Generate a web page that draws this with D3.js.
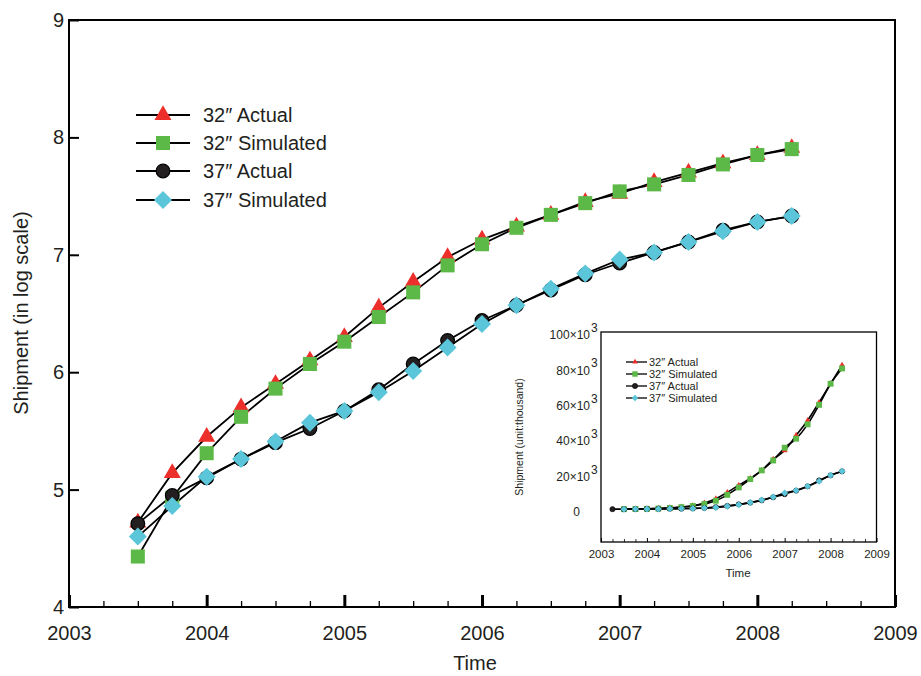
<!DOCTYPE html>
<html><head><meta charset="utf-8">
<script src="https://cdn.jsdelivr.net/npm/d3@7"></script>
<style>body{margin:0;background:#fff}svg{display:block;font-family:"Liberation Sans",Arial,Helvetica,sans-serif}</style>
</head><body><svg id="c" width="921" height="676"></svg>
<script>
// ---------- data ----------
const quarters = [2003.5,2003.75,2004,2004.25,2004.5,2004.75,2005,2005.25,2005.5,2005.75,2006,2006.25,2006.5,2006.75,2007,2007.25,2007.5,2007.75,2008,2008.25];
const act32 = [4.72,5.14,5.45,5.70,5.90,6.10,6.30,6.55,6.77,6.98,7.13,7.24,7.34,7.45,7.52,7.62,7.70,7.78,7.85,7.91];
const sim32 = [4.43,4.93,5.31,5.62,5.86,6.07,6.26,6.47,6.68,6.91,7.09,7.23,7.34,7.44,7.54,7.60,7.68,7.77,7.85,7.90];
const act37 = [4.71,4.95,5.10,5.26,5.40,5.52,5.67,5.85,6.07,6.27,6.44,6.57,6.70,6.83,6.93,7.02,7.11,7.21,7.28,7.33];
const sim37 = [4.60,4.86,5.11,5.26,5.41,5.57,5.67,5.83,6.01,6.21,6.41,6.57,6.71,6.84,6.96,7.02,7.11,7.20,7.28,7.33];
const yearTicks = [2003,2004,2005,2006,2007,2008,2009];
const logTicks = [4,5,6,7,8,9];
// inset (shipment, unit: thousand, in x10^3)
const insetQuartersA37 = [2003.25,2003.5,2003.75,2004,2004.25,2004.5,2004.75,2005,2005.25,2005.5,2005.75,2006,2006.25,2006.5,2006.75,2007,2007.25,2007.5,2007.75,2008,2008.25];
const inAct32 = [0.05,0.14,0.28,0.50,0.79,1.26,2.0,3.5,5.9,9.5,13.5,17.4,21.9,28.2,33.1,41.7,50.1,60.3,70.8,81.3];
const inSim32 = [0.03,0.09,0.20,0.42,0.72,1.17,1.82,2.95,4.8,8.1,12.3,17.0,21.9,27.5,34.7,39.8,47.9,58.9,70.8,79.4];
const inAct37 = [0.03,0.05,0.09,0.13,0.18,0.25,0.33,0.47,0.71,1.17,1.86,2.75,3.72,5.01,6.76,8.51,10.5,12.9,16.2,19.1,21.4];
const inSim37 = [0.04,0.07,0.13,0.18,0.26,0.37,0.47,0.68,1.02,1.62,2.57,3.72,5.13,6.92,9.12,10.5,12.9,15.8,19.1,21.4];
const insetYTicks = [0,20,40,60,80,100];
const labels = ["32\u2033 Actual","32\u2033 Simulated","37\u2033 Actual","37\u2033 Simulated"];
const colors = ["#ec2f2a","#5cb947","#231f20","#5bc6d9"];
const shapes = ["triangle","square","circle","diamond"];

const TXT = "#231f20";
const svg = d3.select("#c");
svg.append("rect").attr("width",921).attr("height",676).attr("fill","#fff");

function drawMarker(g, shape, color, s) {
  let p;
  if (shape === "triangle") {
    p = g.append("path").attr("d", d3.symbol(d3.symbolTriangle, 0.433*s*s*1.0)());
  } else if (shape === "square") {
    p = g.append("path").attr("d", d3.symbol(d3.symbolSquare, s*s*0.82)());
  } else if (shape === "circle") {
    p = g.append("circle").attr("r", s*0.44).attr("stroke","#000").attr("stroke-width", s*0.08);
  } else {
    p = g.append("path").attr("d", d3.symbol(d3.symbolSquare, s*s*0.5)()).attr("transform","rotate(45)");
  }
  p.attr("fill", color);
}

// ---------- main chart ----------
const x = d3.scaleLinear().domain([2003,2009]).range([69,895]);
const y = d3.scaleLinear().domain([4,9]).range([607,20]);

const mainSeries = [
  {xs: quarters, ys: act32},
  {xs: quarters, ys: sim32},
  {xs: quarters, ys: act37},
  {xs: quarters, ys: sim37}
];

// axes
const minorTicks = [];
for (let yr = 2003; yr < 2009; yr++) for (let q = 1; q < 4; q++) minorTicks.push(yr + q/4);
svg.append("g").attr("transform","translate(0,607)")
  .call(d3.axisBottom(x).tickValues(minorTicks).tickSize(-6).tickFormat(""))
  .call(g => { g.select(".domain").remove(); g.selectAll("line").attr("stroke","#000").attr("stroke-width",1.3); });
svg.append("g").attr("transform","translate(0,607)")
  .call(d3.axisBottom(x).tickValues(yearTicks).tickSize(-12).tickPadding(22).tickFormat(d3.format("d")))
  .call(g => { g.select(".domain").remove();
    g.selectAll("line").attr("stroke","#000").attr("stroke-width",3);
    g.selectAll("text").attr("font-size",20).attr("fill",TXT).attr("dy","0.35em").attr("y",26); });
svg.append("g").attr("transform","translate(69,0)")
  .call(d3.axisLeft(y).tickValues(logTicks).tickSize(-10).tickPadding(6).tickFormat(d3.format("d")))
  .call(g => { g.select(".domain").remove();
    g.selectAll("line").attr("stroke","#000").attr("stroke-width",2);
    g.selectAll("text").attr("font-size",20).attr("fill",TXT).attr("x",-5); });
svg.append("rect").attr("x",69).attr("y",20).attr("width",826).attr("height",587)
  .attr("fill","none").attr("stroke","#000").attr("stroke-width",2);

svg.append("text").attr("transform","translate(28,313) rotate(-90)").attr("text-anchor","middle")
  .attr("font-size",20).attr("fill",TXT).text("Shipment (in log scale)");
svg.append("text").attr("x",475).attr("y",670).attr("text-anchor","middle")
  .attr("font-size",20).attr("fill",TXT).text("Time");

const line = d3.line();
const mainSizes = [17,15.5,15.5,18];
mainSeries.forEach((s,i) => {
  svg.append("path").attr("d", line(s.xs.map((t,k) => [x(t), y(s.ys[k])])))
    .attr("fill","none").attr("stroke","#000").attr("stroke-width",1.8);
});
mainSeries.forEach((s,i) => {
  s.xs.forEach((t,k) => {
    const g = svg.append("g").attr("transform",`translate(${x(t)},${y(s.ys[k])})`);
    drawMarker(g, shapes[i], colors[i], mainSizes[i]);
  });
});

// main legend
const legY = [115,143,171,200];
labels.forEach((lab,i) => {
  svg.append("line").attr("x1",136).attr("x2",190).attr("y1",legY[i]).attr("y2",legY[i])
    .attr("stroke","#000").attr("stroke-width",1.8);
  const g = svg.append("g").attr("transform",`translate(163,${legY[i]})`);
  drawMarker(g, shapes[i], colors[i], mainSizes[i]);
  svg.append("text").attr("x",203).attr("y",legY[i]).attr("dy","0.36em")
    .attr("font-size",20).attr("fill",TXT).text(lab);
});

// ---------- inset ----------
const ix = d3.scaleLinear().domain([2003,2009]).range([601,876.5]);
const iy = d3.scaleLinear().domain([-18.5,100]).range([542,332]);
svg.append("rect").attr("x",601).attr("y",332).attr("width",275.5).attr("height",210)
  .attr("fill","#fff").attr("stroke","none");

svg.append("g").attr("transform","translate(0,542)")
  .call(d3.axisBottom(ix).tickValues(minorTicks).tickSize(-3).tickFormat(""))
  .call(g => { g.select(".domain").remove(); g.selectAll("line").attr("stroke","#000").attr("stroke-width",0.8); });
svg.append("g").attr("transform","translate(0,542)")
  .call(d3.axisBottom(ix).tickValues(yearTicks).tickSize(-4).tickPadding(8).tickFormat(d3.format("d")))
  .call(g => { g.select(".domain").remove();
    g.selectAll("line").attr("stroke","#000").attr("stroke-width",1);
    g.selectAll("text").attr("font-size",11.5).attr("fill",TXT); });
svg.append("g").attr("transform","translate(601,0)")
  .call(d3.axisLeft(iy).tickValues(insetYTicks).tickSize(0).tickPadding(5).tickFormat(d => d === 0 ? "0" : d + "\u00d710"))
  .call(g => { g.select(".domain").remove();
    g.selectAll("text").attr("font-size",12).attr("fill",TXT).attr("x", d => d === 0 ? -21 : -11)
      .attr("dy","0.55em");
    g.selectAll(".tick").filter(d => d !== 0).append("text")
      .attr("x",-10).attr("dy","-0.05em").attr("font-size",12).attr("fill",TXT)
      .attr("text-anchor","start").text("3"); });
svg.append("rect").attr("x",601).attr("y",332).attr("width",275.5).attr("height",210)
  .attr("fill","none").attr("stroke","#000").attr("stroke-width",1.3);

svg.append("text").attr("transform","translate(523,437) rotate(-90)").attr("text-anchor","middle")
  .attr("font-size",10.5).attr("fill",TXT).text("Shipment (unit:thousand)");
svg.append("text").attr("x",738).attr("y",577).attr("text-anchor","middle")
  .attr("font-size",11.5).attr("fill",TXT).text("Time");

const insetSeries = [
  {xs: quarters, ys: inAct32},
  {xs: quarters, ys: inSim32},
  {xs: insetQuartersA37, ys: inAct37},
  {xs: quarters, ys: inSim37}
];
const curve = d3.line().curve(d3.curveMonotoneX);
insetSeries.forEach(s => {
  svg.append("path").attr("d", curve(s.xs.map((t,k) => [ix(t), iy(s.ys[k])])))
    .attr("fill","none").attr("stroke","#000").attr("stroke-width",1.6);
});
const inSizes = [6,6.5,6,7];
insetSeries.forEach((s,i) => {
  s.xs.forEach((t,k) => {
    const g = svg.append("g").attr("transform",`translate(${ix(t)},${iy(s.ys[k])})`);
    drawMarker(g, shapes[i], colors[i], inSizes[i]);
  });
});

const ilegY = [362,374,386,398];
labels.forEach((lab,i) => {
  svg.append("line").attr("x1",626).attr("x2",647).attr("y1",ilegY[i]).attr("y2",ilegY[i])
    .attr("stroke","#000").attr("stroke-width",1.3);
  const g = svg.append("g").attr("transform",`translate(635,${ilegY[i]})`);
  drawMarker(g, shapes[i], colors[i], [5.5,6,6,6.5][i]);
  svg.append("text").attr("x",649).attr("y",ilegY[i]).attr("dy","0.36em")
    .attr("font-size",11).attr("fill",TXT).text(lab);
});
</script></body></html>
